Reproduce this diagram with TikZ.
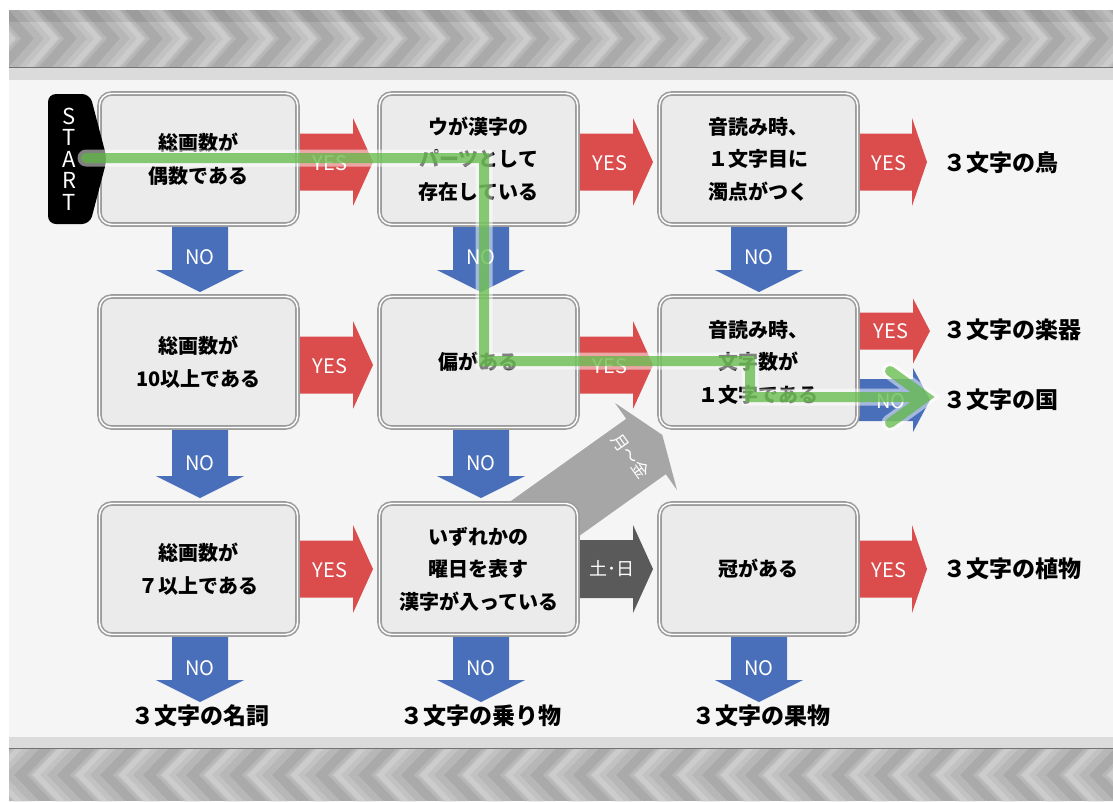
\documentclass[tikz,border=0pt]{standalone}
\usepackage{fontspec}
\setmainfont{Noto Sans CJK JP}
\definecolor{redA}{HTML}{DB4D4D}
\definecolor{blueA}{HTML}{4A6FBA}
\definecolor{dgrayA}{HTML}{5A5A5A}
\definecolor{lgrayA}{HTML}{A6A6A6}
\definecolor{boxfill}{HTML}{EBEBEB}
\definecolor{boxline}{HTML}{9C9C9C}
\definecolor{pathgreen}{HTML}{5CB840}
\definecolor{bgA}{HTML}{F5F5F5}
\definecolor{bandbase}{HTML}{AAAAAA}
\definecolor{bandA}{HTML}{B7B7B7}
\definecolor{bandB}{HTML}{C2C2C2}
\definecolor{bandC}{HTML}{CCCCCC}
% right-pointing block arrow: xstart, xtip, ycenter, shaft half, head half, head length, colour
\newcommand\RArr[7]{\fill[#7] (#1,#3-#4) -- (#2-#6,#3-#4) -- (#2-#6,#3-#5) -- (#2,#3) -- (#2-#6,#3+#5) -- (#2-#6,#3+#4) -- (#1,#3+#4) -- cycle;}
% down-pointing block arrow: xcenter, ystart, ytip, shaft half, head half, head length, colour
\newcommand\DArr[7]{\fill[#7] (#1-#4,#2) -- (#1-#4,#3-#6) -- (#1-#5,#3-#6) -- (#1,#3) -- (#1+#5,#3-#6) -- (#1+#4,#3-#6) -- (#1+#4,#2) -- cycle;}
\begin{document}
\begin{tikzpicture}[x=1pt,y=-1pt,
  qbox/.style={draw=boxline, line width=1.6pt, double=white, double distance=1.4pt,
    fill=boxfill, rounded corners=12pt, minimum width=198pt, minimum height=131pt,
    align=center, inner sep=0pt, font=\bfseries\fontsize{20}{32.5}\selectfont},
  lab/.style={text=white, inner sep=0pt, font=\fontsize{20}{24}\selectfont},
  res/.style={inner sep=0pt, font=\bfseries\fontsize{23}{28}\selectfont},
  startl/.style={text=white, inner sep=0pt, font=\fontsize{22}{24}\selectfont},
  greenw/.style={draw=white, opacity=0.5, line width=17pt, line cap=round, line join=miter},
  greenc/.style={draw=pathgreen, opacity=0.72, line width=10pt, line cap=round, line join=miter}
]
\useasboundingbox (0,0) rectangle (1113,801);
\fill[white] (0,0) rectangle (1113,801);
\fill[bgA] (9,10) rectangle (1113,801);

% top banner
\begin{scope}
\clip (9,10) rectangle (1113,67);
\fill[bandbase] (9,10) rectangle (1113,67);
\foreach \k in {-1,...,26} {
  \pgfmathsetmacro\xo{9+43*\k}
  \fill[bandA] (\xo,10) -- (\xo+30,10) -- (\xo+55,38.5) -- (\xo+30,67) -- (\xo,67) -- (\xo+25,38.5) -- cycle;
  \fill[bandB] (\xo+10,10) -- (\xo+26,10) -- (\xo+51,38.5) -- (\xo+26,67) -- (\xo+10,67) -- (\xo+35,38.5) -- cycle;
  \fill[bandC] (\xo+17,10) -- (\xo+24,10) -- (\xo+49,38.5) -- (\xo+24,67) -- (\xo+17,67) -- (\xo+42,38.5) -- cycle;
}
\fill[black, opacity=0.08] (9,10) rectangle (1113,22);
\end{scope}
\fill[black!14] (9,67) rectangle (1113,80);
\draw[black!55, line width=1.5pt] (9,67.5) -- (1113,67.5);

% bottom banner
\fill[black!14] (9,737) rectangle (1113,748);
\begin{scope}
\clip (9,749) rectangle (1113,801);
\fill[bandbase] (9,749) rectangle (1113,801);
\foreach \k in {-1,...,27} {
  \pgfmathsetmacro\xo{9+43*\k}
  \fill[bandA] (\xo,749) -- (\xo+30,749) -- (\xo+5,775) -- (\xo+30,801) -- (\xo,801) -- (\xo-25,775) -- cycle;
  \fill[bandB] (\xo+4,749) -- (\xo+20,749) -- (\xo-5,775) -- (\xo+20,801) -- (\xo+4,801) -- (\xo-21,775) -- cycle;
  \fill[bandC] (\xo+6,749) -- (\xo+13,749) -- (\xo-12,775) -- (\xo+13,801) -- (\xo+6,801) -- (\xo-19,775) -- cycle;
}
\end{scope}
\draw[black!55, line width=1.5pt] (9,748.5) -- (1113,748.5);

% block arrows (behind boxes)
\RArr{290}{373}{162}{28.5}{44}{20}{redA}
\RArr{570}{653}{162}{28.5}{44}{20}{redA}
\RArr{850}{927}{162}{28.5}{44}{15}{redA}
\RArr{290}{373}{365}{28.5}{44}{20}{redA}
\RArr{570}{653}{365}{28.5}{44}{20}{redA}
\RArr{850}{930}{331}{18.5}{32.5}{17}{redA}
\RArr{850}{930}{400}{21}{32}{17}{blueA}
\RArr{290}{373}{569}{28.5}{44}{20}{redA}
\RArr{570}{653}{569}{29}{44}{20}{dgrayA}
\RArr{850}{927}{569}{28.5}{44}{15}{redA}
\DArr{200}{220}{292}{28}{44}{22}{blueA}
\DArr{481}{220}{292}{28}{44}{22}{blueA}
\DArr{759}{220}{292}{28}{44}{22}{blueA}
\DArr{200}{423}{498}{28}{44}{22}{blueA}
\DArr{481}{423}{498}{28}{44}{22}{blueA}
\DArr{200}{630}{702}{28}{44}{22}{blueA}
\DArr{481}{630}{702}{28}{44}{22}{blueA}
\DArr{759}{630}{702}{28}{44}{22}{blueA}
% diagonal grey arrow
\fill[lgrayA] (463.2,535) -- (626.2,418.8) -- (615,403) -- (662.3,434.9) -- (677,490) -- (665.8,474.2) -- (502.8,590.4) -- cycle;

% boxes
\node[qbox] (b11) at (198.5,159) {総画数が\\偶数である};
\node[qbox] (b12) at (478.5,159) {ウが漢字の\\パーツとして\\存在している};
\node[qbox] (b13) at (758.5,159) {音読み時、\\１文字目に\\濁点がつく};
\node[qbox] (b21) at (198.5,362) {総画数が\\10以上である};
\node[qbox] (b22) at (478.5,362) {偏がある};
\node[qbox] (b23) at (758.5,362) {音読み時、\\文字数が\\１文字である};
\node[qbox] (b31) at (198.5,569) {総画数が\\７以上である};
\node[qbox] (b32) at (478.5,569) {いずれかの\\曜日を表す\\漢字が入っている};
\node[qbox] (b33) at (758.5,569) {冠がある};

% START tab
\fill[black, rounded corners=8pt] (48,94) -- (90,94) -- (107,159) -- (90,224) -- (48,224) -- cycle;
\node[startl] (s1) at (69,116) {S};
\node[startl] (s2) at (69,137.5) {T};
\node[startl] (s3) at (69,159) {A};
\node[startl] (s4) at (69,180.5) {R};
\node[startl] (s5) at (69,202) {T};

% arrow labels
\node[lab] (y1) at (330,163) {YES};
\node[lab] (y2) at (610,163) {YES};
\node[lab] (y3) at (889,163) {YES};
\node[lab] (y4) at (330,366) {YES};
\node[lab] (y5) at (610,366) {YES};
\node[lab] (y6) at (891,331) {YES};
\node[lab] (n7) at (891,401) {NO};
\node[lab] (y8) at (330,570) {YES};
\node[lab] (y9) at (889,570) {YES};
\node[lab] (n1) at (200,257) {NO};
\node[lab] (n2) at (481,257) {NO};
\node[lab] (n3) at (759,257) {NO};
\node[lab] (n4) at (200,463) {NO};
\node[lab] (n5) at (481,463) {NO};
\node[lab] (n6) at (200,668) {NO};
\node[lab] (n8) at (481,668) {NO};
\node[lab] (n9) at (759,668) {NO};
\node[lab, font=\fontsize{18}{22}\selectfont] (ds) at (612,569) {土･日};
\node[lab, font=\fontsize{17}{22}\selectfont, rotate=-54.5] (wd) at (631,456) {月～金};

% results
\node[res, anchor=west] (r1) at (943,163) {３文字の鳥};
\node[res, anchor=west] (r2) at (943,330) {３文字の楽器};
\node[res, anchor=west] (r3) at (943,400) {３文字の国};
\node[res, anchor=west] (r4) at (943,569) {３文字の植物};
\node[res] (r5) at (200,716) {３文字の名詞};
\node[res] (r6) at (481,716) {３文字の乗り物};
\node[res] (r7) at (761,716) {３文字の果物};

% green route
\coordinate (g0) at (86,158);
\coordinate (g1) at (484,158);
\coordinate (g2) at (484,361);
\coordinate (g3) at (750,361);
\coordinate (g4) at (750,397);
\coordinate (g5) at (916,397);
\coordinate (c1) at (890,371);
\coordinate (c2) at (926,397);
\coordinate (c3) at (890,423);
\draw[greenw] (g0) -- (g1) -- (g2) -- (g3) -- (g4) -- (g5) (c1) -- (c2) -- (c3);
\draw[greenc] (g0) -- (g1) -- (g2) -- (g3) -- (g4) -- (g5) (c1) -- (c2) -- (c3);
\end{tikzpicture}
\end{document}
